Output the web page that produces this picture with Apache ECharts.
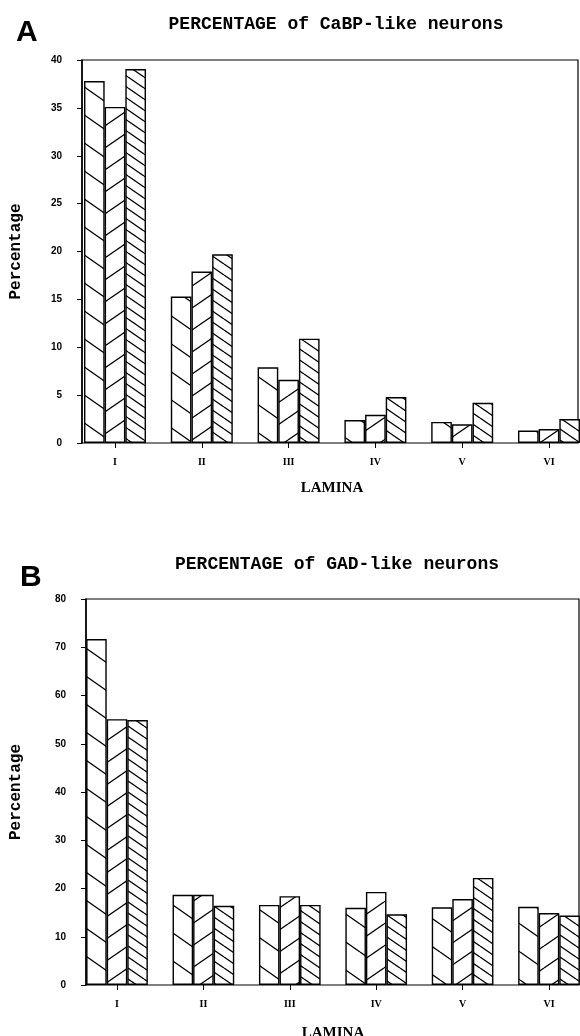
<!DOCTYPE html>
<html>
<head>
<meta charset="utf-8">
<script src="https://cdn.jsdelivr.net/npm/echarts@6/dist/echarts.min.js"></script>
<style>
  html, body { margin: 0; padding: 0; background: #fff; }
  #chart { width: 580px; height: 1036px; }
</style>
</head>
<body>
<div id="chart"></div>
<script>
// 数据
const lamina = ['I', 'II', 'III', 'IV', 'V', 'VI']
const cabp1 = [37.8, 15.3, 7.9, 2.4, 2.2, 1.3]
const cabp2 = [35.1, 17.9, 6.6, 2.95, 1.95, 1.45]
const cabp3 = [39.05, 19.7, 10.9, 4.8, 4.2, 2.5]
const gad1 = [71.7, 18.7, 16.6, 16.0, 16.1, 16.2]
const gad2 = [55.1, 18.7, 18.4, 19.3, 17.8, 14.9]
const gad3 = [54.9, 16.4, 16.6, 14.65, 22.2, 14.4]
const cabpTicks = [0, 40, 5]
const gadTicks = [0, 80, 10]

// 斜线填充
const hatch = (w, h, down) => {
  const c = document.createElement('canvas')
  c.width = w
  c.height = h
  const ctx = c.getContext('2d')
  ctx.fillStyle = '#fff'
  ctx.fillRect(0, 0, w, h)
  ctx.strokeStyle = '#000'
  ctx.lineWidth = 1.3
  for (let k = -1; k <= 1; k++) {
    ctx.beginPath()
    if (down) {
      ctx.moveTo(0, k * h)
      ctx.lineTo(w, k * h + h)
    } else {
      ctx.moveTo(0, k * h + h)
      ctx.lineTo(w, k * h)
    }
    ctx.stroke()
  }
  return { image: c, repeat: 'repeat' }
}
const fills = [hatch(40, 28, true), hatch(32, 22, false), hatch(16, 11, true)]

const monoFont = 'Liberation Mono'
const serifFont = 'Liberation Serif'

const frameGrid = (left, top, width, height) => ({
  left, top, width, height, outerBoundsMode: 'none',
  show: true, borderColor: '#000', borderWidth: 1.2
})

const frameY = (gridIndex, ticks, nameGap) => ({
  type: 'value', gridIndex, min: ticks[0], max: ticks[1], interval: ticks[2],
  name: 'Percentage', nameLocation: 'middle', nameGap,
  nameTextStyle: { fontFamily: monoFont, fontWeight: 'bold', fontSize: 16, color: '#000' },
  axisLine: { show: true, lineStyle: { color: '#000', width: 1.5 } },
  axisTick: { show: true, length: 5, lineStyle: { color: '#000' } },
  axisLabel: { margin: 20, color: '#000', fontFamily: 'Liberation Sans', fontWeight: 'bold', fontSize: 10 },
  splitLine: { show: false }
})

const barX = (gridIndex, nameGap) => ({
  type: 'category', gridIndex, data: lamina,
  name: 'LAMINA', nameLocation: 'middle', nameGap,
  nameTextStyle: { fontFamily: serifFont, fontWeight: 'bold', fontSize: 15, color: '#000' },
  axisLine: { show: false },
  axisTick: { show: true, alignWithLabel: true, length: 5, lineStyle: { color: '#000' } },
  axisLabel: { margin: 14, color: '#000', fontFamily: serifFont, fontWeight: 'bold', fontSize: 10 }
})

const barSeries = (axisIndex, values, i) => ({
  type: 'bar', xAxisIndex: axisIndex, yAxisIndex: axisIndex, data: values,
  barGap: '0%', barCategoryGap: '28.6%',
  itemStyle: { color: fills[i], borderColor: '#000', borderWidth: 1.4 }
})

const chart = echarts.init(document.getElementById('chart'))
chart.setOption({
  animation: false,
  backgroundColor: '#fff',
  title: [
    { text: 'PERCENTAGE of CaBP-like neurons', left: 331, top: 10, textAlign: 'center',
      textStyle: { fontFamily: monoFont, fontWeight: 'bold', fontSize: 18, color: '#000' } },
    { text: 'PERCENTAGE of GAD-like neurons', left: 332, top: 550, textAlign: 'center',
      textStyle: { fontFamily: monoFont, fontWeight: 'bold', fontSize: 18, color: '#000' } },
    { text: 'A', left: 11, top: 13,
      textStyle: { fontFamily: 'Liberation Sans', fontWeight: 'bold', fontSize: 30, color: '#000' } },
    { text: 'B', left: 15, top: 558,
      textStyle: { fontFamily: 'Liberation Sans', fontWeight: 'bold', fontSize: 30, color: '#000' } }
  ],
  grid: [
    frameGrid(82, 60, 496, 383),
    { left: 71.6, top: 60, width: 520.8, height: 383, outerBoundsMode: 'none' },
    frameGrid(86, 599, 493, 386),
    { left: 73.8, top: 599, width: 518.4, height: 386, outerBoundsMode: 'none' }
  ],
  xAxis: [
    { type: 'value', gridIndex: 0, show: false },
    barX(1, 38),
    { type: 'value', gridIndex: 2, show: false },
    barX(3, 41)
  ],
  yAxis: [
    frameY(0, cabpTicks, 58),
    { type: 'value', gridIndex: 1, show: false, min: cabpTicks[0], max: cabpTicks[1] },
    frameY(2, gadTicks, 62),
    { type: 'value', gridIndex: 3, show: false, min: gadTicks[0], max: gadTicks[1] }
  ],
  series: [
    barSeries(1, cabp1, 0),
    barSeries(1, cabp2, 1),
    barSeries(1, cabp3, 2),
    barSeries(3, gad1, 0),
    barSeries(3, gad2, 1),
    barSeries(3, gad3, 2)
  ]
})
</script>
</body>
</html>
